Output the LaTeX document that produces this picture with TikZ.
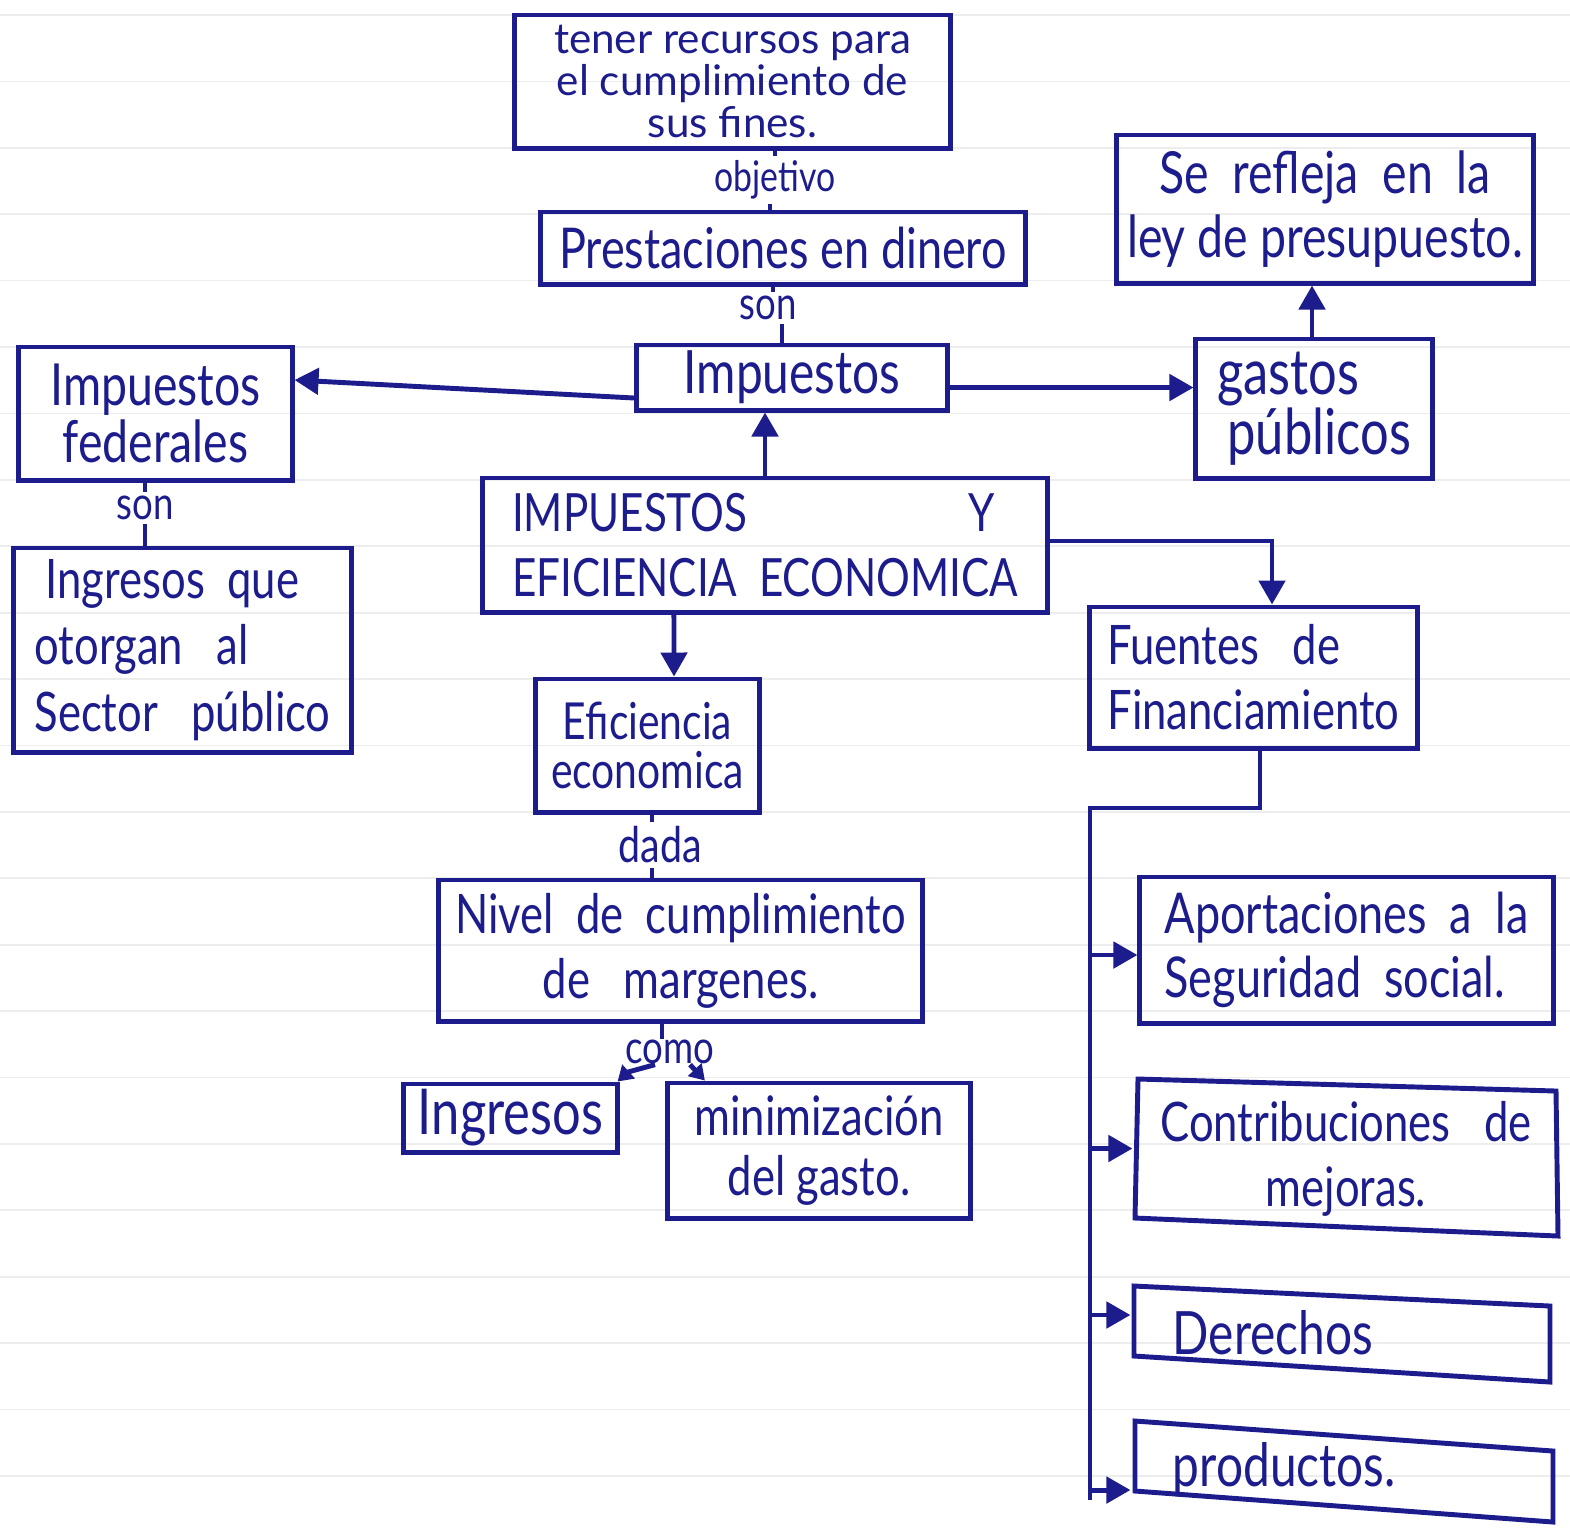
\documentclass[tikz,border=0pt]{standalone}
\usepackage{fontspec}
\usetikzlibrary{arrows.meta}
\newfontfamily\hand[FakeStretch=0.8]{Lato}
\newfontfamily\handw[FakeStretch=1.0]{Lato}
\definecolor{ink}{RGB}{28,28,140}
\newcommand{\fs}[2]{\fontsize{#1}{#2}\selectfont}
\tikzset{
  bx/.style={draw=ink, line width=1.4pt, text=ink, inner sep=0pt, align=center},
  gbx/.style={bx, draw=none},
  lbl/.style={text=ink, inner sep=1pt, font={\hand\fs{13}{13}}},
  arr/.style={draw=ink, line width=1.4pt, -{Triangle[length=2.4mm,width=2.6mm]}},
  sarr/.style={draw=ink, line width=1.4pt, -{Triangle[length=1.5mm,width=1.8mm]}},
  ln/.style={draw=ink, line width=1.4pt},
  rule/.style={draw=gray!14, line width=0.5pt}
}
\begin{document}
\begin{tikzpicture}[x=0.01cm,y=-0.01cm]
\useasboundingbox (0,0) rectangle (1570,1529);
\fill[white] (0,0) rectangle (1570,1529);
\foreach \i in {0,...,22} \draw[rule] (0,15+66.4*\i) -- (1570,15+66.4*\i);

% boxes
\node[bx, minimum width=4.35cm, minimum height=1.33cm, font={\handw\fs{12}{9.5}}] (top) at (732.5,81.5) {tener recursos para\\el cumplimiento de\\sus fines.};
\node[bx, minimum width=4.84cm, minimum height=0.72cm, font={\hand\fs{16}{18}}] (prest) at (783,248) {Prestaciones en dinero};
\node[bx, minimum width=4.16cm, minimum height=1.48cm, font={\hand\fs{16.5}{18}}] (refl) at (1325,209) {Se \ refleja \ en \ la\\ley de presupuesto.};
\node[bx, minimum width=2.73cm, minimum height=1.33cm, font={\hand\fs{16.5}{16}}] (fed) at (155.5,413.5) {Impuestos\\federales};
\node[bx, minimum width=3.10cm, minimum height=0.65cm, font={\hand\fs{17}{17}}] (imp) at (792,377.5) {Impuestos};
\node[bx, minimum width=2.36cm, minimum height=1.39cm, align=left, font={\hand\fs{18}{17}}] (gastos) at (1314,408.5) {gastos\\\,públicos};
\node[bx, minimum width=5.64cm, minimum height=1.34cm, align=left, font={\hand\fs{15}{18.5}}] (main) at (765,545) {IMPUESTOS \qquad\qquad Y\\EFICIENCIA \ ECONOMICA};
\node[bx, minimum width=3.37cm, minimum height=2.04cm, align=left, font={\hand\fs{15.5}{19}}] (ingq) at (182.5,650) {\ Ingresos \ que\\otorgan \ \ al\\Sector \ \ público};
\node[bx, minimum width=2.23cm, minimum height=1.33cm, font={\hand\fs{14.5}{14}}] (efic) at (647.5,745.5) {Eficiencia\\economica};
\node[bx, minimum width=3.27cm, minimum height=1.41cm, align=left, font={\hand\fs{15.5}{18.5}}] (fuentes) at (1253.5,677.5) {Fuentes \ \ de\\Financiamiento};
\node[bx, minimum width=4.83cm, minimum height=1.41cm, font={\hand\fs{15.5}{18.5}}] (nivel) at (680.5,950.5) {Nivel \ de \ cumplimiento\\de \ \ margenes.\qquad};
\node[bx, minimum width=2.13cm, minimum height=0.68cm, font={\hand\fs{18}{18}}] (ingr) at (510.5,1118) {Ingresos};
\node[bx, minimum width=3.02cm, minimum height=1.35cm, font={\hand\fs{15.5}{17}}] (minim) at (819,1150.5) {minimización\\del gasto.};
\node[bx, minimum width=4.13cm, minimum height=1.46cm, align=left, font={\hand\fs{16}{18}}] (aport) at (1346.5,950) {Aportaciones \ a \ la\\Seguridad \ social.};
\node[gbx, minimum width=4.22cm, minimum height=1.53cm, font={\hand\fs{15.5}{18.5}}] (contr) at (1346,1158.5) {Contribuciones \ \ de\\mejoras.};
\node[gbx, minimum width=4.17cm, minimum height=0.90cm, inner xsep=0.4cm, text width=3.37cm, align=left, font={\hand\fs{17}{18}}] (derech) at (1341.5,1333) {Derechos};
\node[gbx, minimum width=4.19cm, minimum height=1.0cm, inner xsep=0.4cm, text width=3.39cm, align=left, font={\hand\fs{17}{18}}] (prod) at (1342.5,1470) {productos.};
\draw[ln] (1138,1079) -- (1556,1091) -- (1558,1236) -- (1135,1218) -- cycle;
\draw[ln] (1134,1286) -- (1550,1306) -- (1550,1382) -- (1134,1356) -- cycle;
\draw[ln] (1135,1421) -- (1553,1451) -- (1553,1522) -- (1135,1491) -- cycle;

% labels
\node[lbl, font={\hand\fs{12}{12}}] (obj) at (775,180) {objetivo};
\node[lbl] (son1) at (768,308) {son};
\node[lbl] (son2) at (145,508) {son};
\node[lbl, font={\hand\fs{14}{14}}] (dada) at (660,845) {dada};
\node[lbl, inner sep=0pt] (como) at (670,1052) {como};

% connectors
\draw[ln] (obj.north) -- (obj.north |- top.south);
\draw[ln] ([xshift=-0.05cm]obj.south) -- ([xshift=-0.05cm]obj.south |- prest.north);
\draw[ln] ([xshift=0.05cm]son1.north) -- ([xshift=0.05cm]son1.north |- prest.south);
\draw[ln] ([xshift=0.14cm]son1.south) -- ([xshift=0.14cm]son1.south |- imp.north);
\draw[arr] ([yshift=-2.05mm]imp.west) -- ([yshift=3.35mm]fed.east);
\draw[arr] ([yshift=-1mm]imp.east) -- ([yshift=-1mm]imp.east -| gastos.west);
\draw[arr] ([xshift=-0.02cm]gastos.north) -- ([xshift=-0.02cm]gastos.north |- refl.south);
\draw[arr] (main.north) -- (main.north |- imp.south);
\draw[ln] (son2.north) -- (son2.north |- fed.south);
\draw[ln] (son2.south) -- (son2.south |- ingq.north);
\draw[arr] ([yshift=0.4mm]main.east) -| ([xshift=0.185cm]fuentes.north);
\draw[arr] ([xshift=-0.91cm]main.south) -- ([xshift=0.265cm]efic.north);
\draw[ln] ([xshift=-0.08cm]dada.north) -- ([xshift=-0.08cm]dada.north |- efic.south);
\draw[ln] ([xshift=-0.08cm]dada.south) -- ([xshift=-0.08cm]dada.south |- nivel.north);
\draw[ln] ([xshift=-0.08cm]como.north) -- ([xshift=-0.08cm]como.north |- nivel.south);
\draw[sarr] ([xshift=-0.15cm]como.south) .. controls (628,1072) .. ([xshift=-0.02cm]ingr.north east);
\draw[sarr] ([xshift=0.2cm]como.south) -- ([xshift=-1.14cm]minim.north);
\coordinate (tt) at (1090,808);
\coordinate (tb) at (1090,1500);
\draw[ln] ([xshift=0.065cm]fuentes.south) |- (tt) -- (tb);
\draw[arr] ([yshift=-0.05cm]aport.west -| tt) -- ([yshift=-0.05cm]aport.west);
\draw[arr] ([yshift=0.1cm]contr.west -| tt) -- ([yshift=0.1cm]contr.west);
\draw[arr] ([yshift=1.8mm]derech.west -| tt) -- ([yshift=1.8mm]derech.west);
\draw[arr] ([yshift=-2mm]prod.west -| tt) -- ([yshift=-2mm]prod.west);
\end{tikzpicture}
\end{document}
